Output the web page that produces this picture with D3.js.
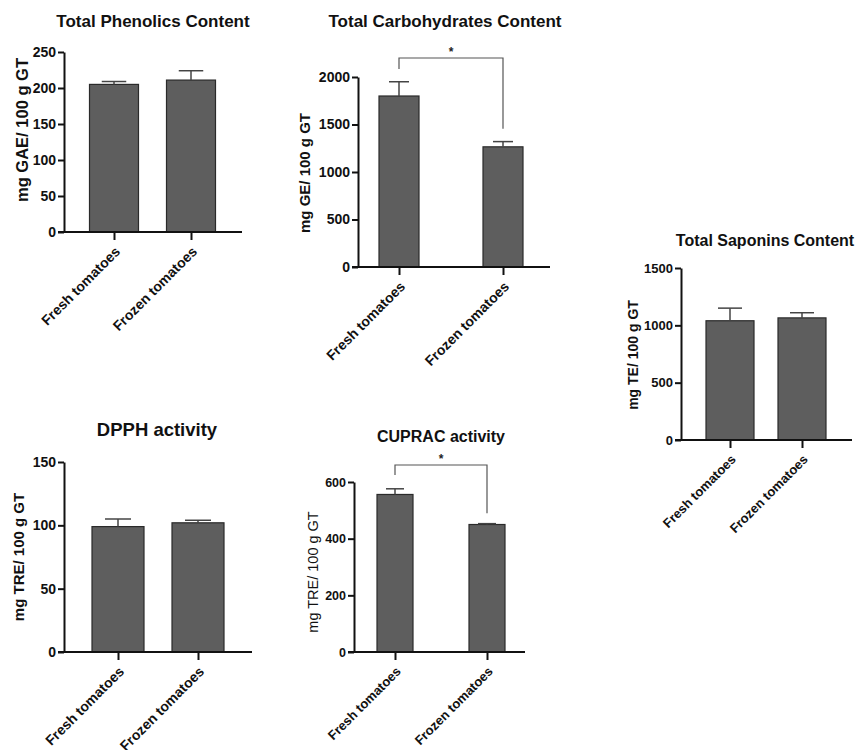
<!DOCTYPE html>
<html>
<head>
<meta charset="utf-8">
<script src="https://cdn.jsdelivr.net/npm/d3@7"></script>
<style>
  body { margin: 0; background: #fff; }
  svg { font-family: "Liberation Sans", Arial, sans-serif; }
</style>
</head>
<body>
<div id="figure"></div>
<script>
// groups
var groups = ["Fresh tomatoes", "Frozen tomatoes"];

// means and SD
var phenolicsMean = [205, 211];
var phenolicsErr = [4, 13];
var carbMean = [1800, 1265];
var carbErr = [150, 55];
var saponinsMean = [1040, 1065];
var saponinsErr = [110, 45];
var dpphMean = [99, 102];
var dpphErr = [6, 2];
var cupracMean = [556, 450];
var cupracErr = [20, 3];

// y tick values
var phenolicsTicks = [0, 50, 100, 150, 200, 250];
var carbTicks = [0, 500, 1000, 1500, 2000];
var saponinsTicks = [0, 500, 1000, 1500];
var dpphTicks = [0, 50, 100, 150];
var cupracTicks = [0, 200, 400, 600];

var svg = d3.select("#figure").append("svg")
    .attr("width", 861)
    .attr("height", 750);

var drawPanel = function(p) {
    var g = svg.append("g");

    var y = d3.scaleLinear()
        .domain([0, d3.max(p.ticks)])
        .range([p.y0, p.yTop]);

    var x = d3.scalePoint()
        .domain(groups)
        .range(p.centers);

    // title
    g.append("text")
        .attr("x", p.title[0])
        .attr("y", p.title[1])
        .attr("text-anchor", "middle")
        .attr("dy", "0.35em")
        .style("font-size", p.titleSize + "px")
        .style("font-weight", "bold")
        .attr("fill", "#111")
        .text(p.name);

    // y label
    g.append("text")
        .attr("transform", "translate(" + p.ylab[0] + "," + p.ylab[1] + ") rotate(-90)")
        .attr("text-anchor", "middle")
        .attr("dy", "0.35em")
        .style("font-size", p.ylabSize + "px")
        .style("font-weight", p.ylabBold ? "bold" : "normal")
        .attr("fill", "#111")
        .text(p.ylabel);

    // bars
    var data = groups.map(function(k, i) {
        return {key: k, mean: p.mean[i], err: p.err[i]};
    });

    g.selectAll("rect.bar")
        .data(data)
        .enter().append("rect")
        .attr("class", "bar")
        .attr("x", function(d) { return x(d.key) - p.bw / 2; })
        .attr("y", function(d) { return y(d.mean); })
        .attr("width", p.bw)
        .attr("height", function(d) { return y(0) - y(d.mean); })
        .attr("fill", "#5e5e5e")
        .attr("stroke", "#2a2a2a")
        .attr("stroke-width", 1.2);

    // error bars (upper only)
    var eb = g.selectAll("g.err")
        .data(data)
        .enter().append("g")
        .attr("class", "err")
        .attr("stroke", "#444")
        .attr("stroke-width", 1.5);
    eb.append("line")
        .attr("x1", function(d) { return x(d.key); })
        .attr("x2", function(d) { return x(d.key); })
        .attr("y1", function(d) { return y(d.mean); })
        .attr("y2", function(d) { return y(d.mean + d.err); });
    eb.append("line")
        .attr("x1", function(d) { return x(d.key) - p.bw / 4; })
        .attr("x2", function(d) { return x(d.key) + p.bw / 4; })
        .attr("y1", function(d) { return y(d.mean + d.err); })
        .attr("y2", function(d) { return y(d.mean + d.err); });

    // y axis
    var yAxis = g.append("g")
        .attr("transform", "translate(" + p.ax + ",0)")
        .call(d3.axisLeft(y).tickValues(p.ticks).tickFormat(d3.format("d"))
            .tickSize(6).tickSizeOuter(0).tickPadding(2));
    yAxis.selectAll("path, line").attr("stroke", "#111").attr("stroke-width", 2);
    yAxis.selectAll("text")
        .style("font-size", p.tickSize + "px")
        .style("font-weight", "bold")
        .style("font-family", "Liberation Sans, Arial, sans-serif")
        .attr("fill", "#111");

    // x axis
    var xAxis = g.append("g")
        .attr("transform", "translate(0," + p.y0 + ")")
        .call(d3.axisBottom(x).tickSize(8).tickSizeOuter(0));
    xAxis.select(".domain").remove();
    xAxis.selectAll("line").attr("stroke", "#111").attr("stroke-width", 2);
    xAxis.selectAll("text")
        .attr("x", 0).attr("y", 0).attr("dy", "0.35em")
        .attr("transform", "translate(3,17) rotate(-45)")
        .style("text-anchor", "end")
        .style("font-size", p.xlabSize + "px")
        .style("font-weight", "bold")
        .style("font-family", "Liberation Sans, Arial, sans-serif")
        .attr("fill", "#111");
    g.append("line")
        .attr("x1", p.ax - 6).attr("x2", p.xEnd)
        .attr("y1", p.y0).attr("y2", p.y0)
        .attr("stroke", "#111")
        .attr("stroke-width", 2);

    // significance bracket
    if (p.sig) {
        var top = y(p.sig.level);
        var br = g.append("g")
            .attr("fill", "none")
            .attr("stroke", "#555")
            .attr("stroke-width", 1.2);
        br.append("path")
            .attr("d", "M" + x(groups[0]) + "," + y(p.sig.left) +
                       "V" + top +
                       "H" + x(groups[1]) +
                       "V" + y(p.sig.right));
        g.append("text")
            .attr("x", (x(groups[0]) + x(groups[1])) / 2)
            .attr("y", top - 2)
            .attr("text-anchor", "middle")
            .style("font-size", "12px")
            .style("font-weight", "bold")
            .attr("fill", "#222")
            .text("*");
    }
};

drawPanel({
    name: "Total Phenolics Content", ylabel: "mg GAE/ 100 g GT",
    mean: phenolicsMean, err: phenolicsErr, ticks: phenolicsTicks,
    ax: 64, yTop: 52, y0: 232, xEnd: 242, centers: [114, 191], bw: 49,
    title: [153, 21], titleSize: 17, ylab: [22, 130], ylabSize: 16.5, ylabBold: true,
    tickSize: 14, xlabSize: 14
});

drawPanel({
    name: "Total Carbohydrates Content", ylabel: "mg GE/ 100 g GT",
    mean: carbMean, err: carbErr, ticks: carbTicks,
    ax: 358, yTop: 77, y0: 267, xEnd: 550, centers: [399, 503], bw: 40,
    title: [445, 21], titleSize: 17, ylab: [305, 173], ylabSize: 15, ylabBold: true,
    tickSize: 14, xlabSize: 14,
    sig: {level: 2200, left: 2085, right: 1455}
});

drawPanel({
    name: "Total Saponins Content", ylabel: "mg TE/ 100 g GT",
    mean: saponinsMean, err: saponinsErr, ticks: saponinsTicks,
    ax: 681, yTop: 268, y0: 440, xEnd: 852, centers: [730, 802], bw: 48,
    title: [765, 240], titleSize: 16, ylab: [633, 355], ylabSize: 14, ylabBold: true,
    tickSize: 13, xlabSize: 13
});

drawPanel({
    name: "DPPH activity", ylabel: "mg TRE/ 100 g GT",
    mean: dpphMean, err: dpphErr, ticks: dpphTicks,
    ax: 64, yTop: 462, y0: 652, xEnd: 252, centers: [118, 198], bw: 52,
    title: [157, 430], titleSize: 18.5, ylab: [19, 557], ylabSize: 15, ylabBold: true,
    tickSize: 14, xlabSize: 14
});

drawPanel({
    name: "CUPRAC activity", ylabel: "mg TRE/ 100 g GT",
    mean: cupracMean, err: cupracErr, ticks: cupracTicks,
    ax: 354, yTop: 482, y0: 652, xEnd: 525, centers: [395, 487], bw: 36,
    title: [441, 436], titleSize: 16, ylab: [313, 572], ylabSize: 14.5, ylabBold: false,
    tickSize: 12.5, xlabSize: 13,
    sig: {level: 660, left: 625, right: 490}
});
</script>
</body>
</html>
